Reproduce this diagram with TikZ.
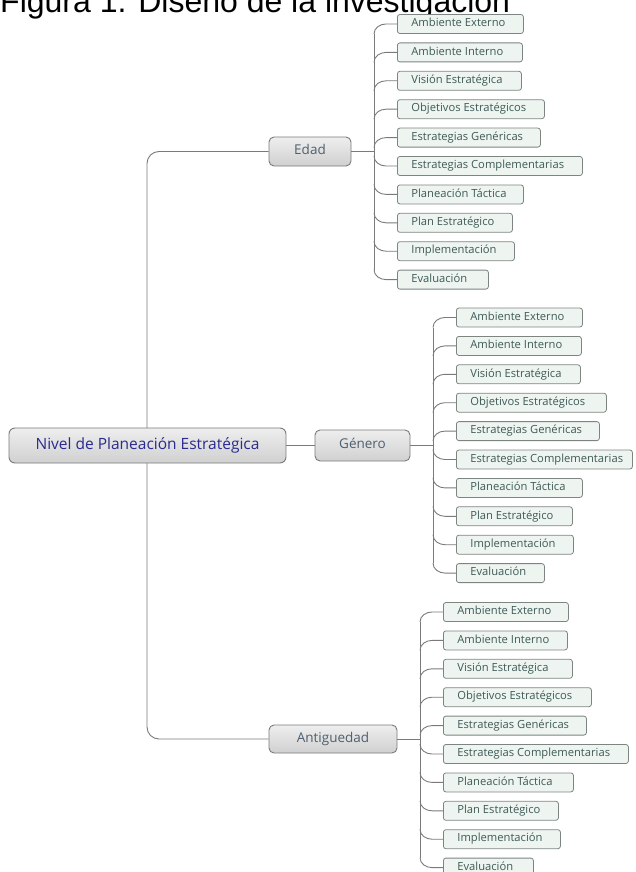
\documentclass[tikz,border=0pt]{standalone}
\usepackage{fontspec}
\setmainfont{Open Sans}
\newfontfamily\titlefont{Liberation Sans}
\definecolor{linegray}{HTML}{7A7A7A}
\definecolor{leafborder}{HTML}{7D8580}
\definecolor{leaffill}{HTML}{EEF5F0}
\definecolor{leaftext}{HTML}{3E5A57}
\definecolor{parborder}{HTML}{7A7A7A}
\definecolor{partop}{HTML}{EEEEEE}
\definecolor{parbot}{HTML}{D0D0D0}
\definecolor{partext}{HTML}{4D6070}
\definecolor{maintext}{HTML}{2A2A8F}
\newcommand\lf[2]{\makebox[#1pt][l]{\hspace{14pt}#2}}
\newcommand\grp[6]{%
  \foreach \w/\t [count=\i from 0] in {#6} {
    \pgfmathsetmacro\yy{#5+\i*28.4}
    \node[leaf] (#1\i) at (#3+23,\yy) {\lf{\w}{\t}};
    \ifdim\yy pt<#4pt
      \draw[conn] (#3,\yy+10) to[out=90,in=180] (#3+12,\yy) -- (#1\i.west);
    \else
      \draw[conn] (#3,\yy-10) to[out=-90,in=180] (#3+12,\yy) -- (#1\i.west);
    \fi
  }
  \draw[conn] (#3,#5+10) -- (#3,#5+9*28.4-10);
  \draw[conn] (#2.east) -- (#3,#4);
}
\begin{document}
\begin{tikzpicture}[x=1pt,y=-1pt,
  conn/.style={draw=linegray, line width=0.9pt},
  leaf/.style={draw=leafborder, fill=leaffill, rounded corners=2.5pt, inner sep=0pt,
    minimum height=19pt, anchor=west, text height=8pt, text depth=2.5pt,
    font=\fontsize{11.2}{12}\selectfont, text=leaftext, line width=0.8pt},
  parent/.style={draw=parborder, top color=partop, bottom color=parbot, rounded corners=5pt,
    inner sep=0pt, text height=9.5pt, text depth=3pt,
    font=\fontsize{13.5}{15}\selectfont, text=partext, line width=0.9pt},
  mainbox/.style={parent, rounded corners=6pt, font=\fontsize{15.5}{17}\selectfont,
    text=maintext, text height=11pt, text depth=3.5pt}
]
\useasboundingbox (0,0) rectangle (635,872);
\node[anchor=base west, inner sep=0pt, font=\titlefont\fontsize{32}{32}\selectfont] (title) at (0,13) {Figura 1. Diseño de la investigación};

\node[parent, minimum width=82pt, minimum height=29pt] (edad) at (310,151.5) {Edad};
\node[parent, minimum width=95pt, minimum height=31pt] (gen) at (362.5,445.5) {Género};
\node[parent, minimum width=128pt, minimum height=28pt] (ant) at (333,739) {Antiguedad};

\draw[conn, rounded corners=12pt] (edad.west) -- (147,151.5) -- (147,739) -- (ant.west);
\node[mainbox, minimum width=277pt, minimum height=35pt] (main) at (147.5,445.5) {Nivel de Planeación Estratégica};
\draw[conn] (main.east) -- (gen.west);

\grp{e}{edad}{374}{151.5}{24}{126/Ambiente Externo,125/Ambiente Interno,124/Visión Estratégica,147/Objetivos Estratégicos,143/Estrategias Genéricas,185/Estrategias Complementarias,126/Planeación Táctica,115/Plan Estratégico,117/Implementación,91/Evaluación}
\grp{g}{gen}{433}{445.5}{317.5}{126/Ambiente Externo,125/Ambiente Interno,124/Visión Estratégica,150/Objetivos Estratégicos,143/Estrategias Genéricas,176/Estrategias Complementarias,126/Planeación Táctica,116/Plan Estratégico,117/Implementación,88/Evaluación}
\grp{a}{ant}{420}{739}{612}{125/Ambiente Externo,124/Ambiente Interno,129/Visión Estratégica,148/Objetivos Estratégicos,143/Estrategias Genéricas,185/Estrategias Complementarias,130/Planeación Táctica,115/Plan Estratégico,117/Implementación,90/Evaluación}
\end{tikzpicture}
\end{document}
